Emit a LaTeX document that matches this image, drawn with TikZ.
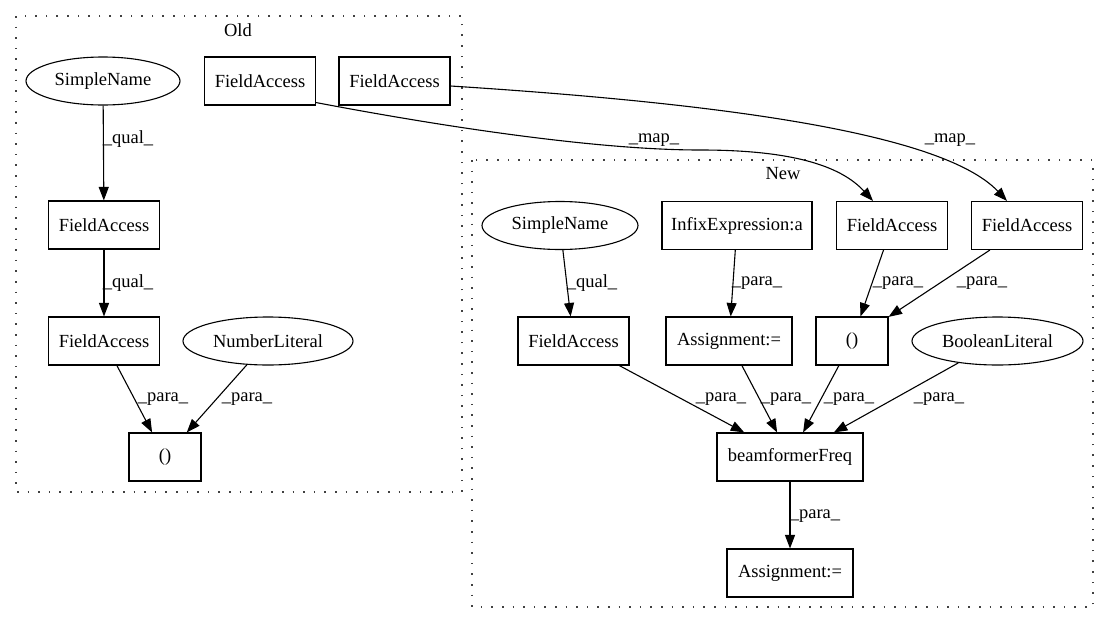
\documentclass[tikz,border=0pt]{standalone}
\usepackage{fontspec}
\setmainfont{Liberation Serif}
\usetikzlibrary{arrows.meta,shapes.geometric}
\begin{document}
\begin{tikzpicture}[x=1pt,y=-1pt,
  every node/.style={font=\fontsize{18.5}{22}\selectfont},
  box/.style={draw,line width=1.1pt,rectangle,minimum height=48pt,inner sep=0pt},
  oval/.style={draw,line width=1.1pt,ellipse,minimum height=48pt,inner sep=0pt},
  edge/.style={line width=1.1pt,-{Triangle[length=13.5pt,width=10pt]}},
  lbl/.style={inner sep=0pt},
  cluster/.style={line width=1.6pt,black!75,dash pattern=on 1.6pt off 9pt}]
\useasboundingbox (0,0) rectangle (1108,624);
% clusters
\draw[cluster] (16,16) rectangle (462,492);
\node[lbl] (oldlbl) at (238,30) {Old};
\draw[cluster] (472,160) rectangle (1093,607);
\node[lbl] (newlbl) at (783,174) {New};
% Old nodes
\node[oval,minimum width=154pt] (osn) at (103,81) {SimpleName};
\node[box,minimum width=111pt] (ofa1) at (260,81) {FieldAccess};
\node[box,minimum width=111pt] (ofa2) at (394.5,81) {FieldAccess};
\node[box,minimum width=111pt] (ofam) at (104,225) {FieldAccess};
\node[box,minimum width=111pt] (ofal) at (104,341) {FieldAccess};
\node[oval,minimum width=170pt] (onl) at (268,341) {NumberLiteral};
\node[box,minimum width=72pt] (opar) at (165,457) {()};
% New nodes
\node[oval,minimum width=156pt] (nsn) at (560,225.5) {SimpleName};
\node[box,minimum width=150pt] (ninf) at (737,225.5) {InfixExpression:a};
\node[box,minimum width=111pt] (nfa1) at (892,225.5) {FieldAccess};
\node[box,minimum width=111pt] (nfb) at (1027,225.5) {FieldAccess};
\node[box,minimum width=111pt] (nfc) at (573.5,341) {FieldAccess};
\node[box,minimum width=126pt] (nas1) at (729,341) {Assignment:=};
\node[box,minimum width=72pt] (npar) at (852,341) {()};
\node[oval,minimum width=171pt] (nbl) at (997.5,341) {BooleanLiteral};
\node[box,minimum width=146pt] (nbf) at (790,457) {beamformerFreq};
\node[box,minimum width=126pt] (nas2) at (790,573) {Assignment:=};
% Old edges
\draw[edge] (osn) -- (ofam);
\node[lbl] (l1) at (128,139) {\_qual\_};
\draw[edge] (ofam) -- (ofal);
\node[lbl] (l2) at (128,283) {\_qual\_};
\draw[edge] (ofal) -- (opar);
\node[lbl] (l3) at (163,399) {\_para\_};
\draw[edge] (onl) -- (opar);
\node[lbl] (l4) at (247,399) {\_para\_};
% New edges
\draw[edge] (nsn) -- (nfc);
\node[lbl] (l5) at (592,283) {\_qual\_};
\draw[edge] (ninf) -- (nas1);
\node[lbl] (l6) at (757,283) {\_para\_};
\draw[edge] (nfa1) -- (npar);
\node[lbl] (l7) at (898,283) {\_para\_};
\draw[edge] (nfb) -- (npar);
\node[lbl] (l8) at (982,283) {\_para\_};
\draw[edge] (nfc) -- (nbf);
\node[lbl] (l9) at (721,399) {\_para\_};
\draw[edge] (nas1) -- (nbf);
\node[lbl] (l10) at (786,399) {\_para\_};
\draw[edge] (npar) -- (nbf);
\node[lbl] (l11) at (849,399) {\_para\_};
\draw[edge] (nbl) -- (nbf);
\node[lbl] (l12) at (939,399) {\_para\_};
\draw[edge] (nbf) -- (nas2);
\node[lbl] (l13) at (815,516) {\_para\_};
% map edges
\draw[edge] ([yshift=3pt]ofa1.south east) .. controls (450,128) and (600,150) .. (700,150)
  .. controls (790,150) and (840,165) .. ([xshift=-19pt]nfa1.north);
\node[lbl] (m1) at (654,140) {\_map\_};
\draw[edge] ([yshift=-5pt]ofa2.east) .. controls (700,102) and (940,130) .. ([xshift=-20pt]nfb.north);
\node[lbl] (m2) at (950,140) {\_map\_};
\end{tikzpicture}
\end{document}
